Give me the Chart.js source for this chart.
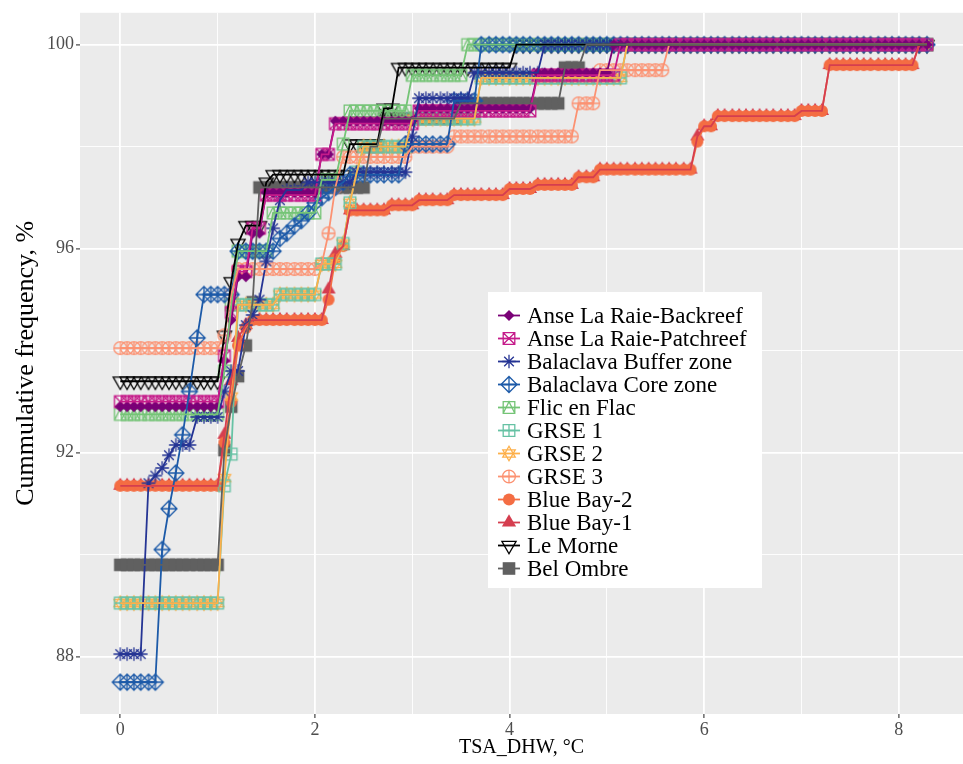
<!DOCTYPE html>
<html>
<head>
<meta charset="utf-8">
<title>Cummulative frequency of TSA_DHW</title>
<script src="https://cdn.jsdelivr.net/npm/chart.js@4.4.0/dist/chart.umd.min.js"></script>
<style>
  body { margin: 0; background: #fff; }
  #wrap { position: relative; width: 963px; height: 764px; }
  #legend {
    position: absolute; left: 488px; top: 292px; width: 274px; height: 296px;
    background: #fff; box-sizing: border-box; padding-top: 12px;
    font-family: 'Liberation Serif', 'Times New Roman', serif; font-size: 23px; color: #000;
  }
  .row { display: flex; align-items: center; height: 23px; white-space: nowrap; }
  .row canvas { margin-left: 8px; margin-right: 5px; }
</style>
</head>
<body>
<div id="wrap">
  <canvas id="chart" width="963" height="764"></canvas>
  <div id="legend"></div>
</div>
<script>
// x values (TSA_DHW, °C) shared by every site
const tsaDhw = [
  0, 0.07, 0.14, 0.21, 0.29, 0.36, 0.43, 0.5, 0.57, 0.64, 0.71, 0.79, 0.86, 0.93,
  1, 1.07, 1.14, 1.21, 1.29, 1.36, 1.43, 1.5, 1.57, 1.64, 1.71, 1.79, 1.86, 1.93,
  2, 2.07, 2.14, 2.21, 2.29, 2.36, 2.43, 2.5, 2.57, 2.64, 2.71, 2.79, 2.86, 2.93,
  3, 3.07, 3.14, 3.21, 3.29, 3.36, 3.43, 3.5, 3.57, 3.64, 3.71, 3.79, 3.86, 3.93,
  4, 4.07, 4.14, 4.21, 4.29, 4.36, 4.43, 4.5, 4.57, 4.64, 4.71, 4.79, 4.86, 4.93,
  5, 5.07, 5.14, 5.21, 5.29, 5.36, 5.43, 5.5, 5.57, 5.64, 5.71, 5.79, 5.86, 5.93,
  6, 6.07, 6.14, 6.21, 6.29, 6.36, 6.43, 6.5, 6.57, 6.64, 6.71, 6.79, 6.86, 6.93,
  7, 7.07, 7.14, 7.21, 7.29, 7.36, 7.43, 7.5, 7.57, 7.64, 7.71, 7.79, 7.86, 7.93,
  8, 8.07, 8.14, 8.21, 8.29
];

// cumulative frequency, % (one value per tsaDhw entry)
const anseBackreef = [
  92.9, 92.9, 92.9, 92.9, 92.9, 92.9, 92.9, 92.9, 92.9, 92.9, 92.9, 92.9, 92.9, 92.9,
  92.9, 93.8, 94.6, 95.45, 95.45, 96.3, 96.3, 97.1, 97.1, 97.1, 97.1, 97.1, 97.1, 97.1,
  97.1, 97.85, 97.85, 98.5, 98.5, 98.5, 98.5, 98.5, 98.5, 98.5, 98.5, 98.5, 98.5, 98.5,
  98.5, 98.75, 98.75, 98.75, 98.75, 98.75, 98.75, 98.75, 98.75, 98.75, 98.75, 98.75, 98.75, 98.75,
  98.75, 98.75, 98.75, 98.75, 99.45, 99.45, 99.45, 99.45, 99.45, 99.45, 99.45, 99.45, 99.45, 99.45,
  99.45, 100, 100, 100, 100, 100, 100, 100, 100, 100, 100, 100, 100, 100,
  100, 100, 100, 100, 100, 100, 100, 100, 100, 100, 100, 100, 100, 100,
  100, 100, 100, 100, 100, 100, 100, 100, 100, 100, 100, 100, 100, 100,
  100, 100, 100, 100, 100
];
const ansePatchreef = [
  93, 93, 93, 93, 93, 93, 93, 93, 93, 93, 93, 93, 93, 93,
  93, 93.9, 94.75, 95.55, 95.55, 96.4, 96.4, 97.05, 97.05, 97.05, 97.05, 97.05, 97.05, 97.05,
  97.05, 97.85, 97.85, 98.45, 98.45, 98.45, 98.45, 98.45, 98.45, 98.45, 98.45, 98.45, 98.45, 98.45,
  98.45, 98.7, 98.7, 98.7, 98.7, 98.7, 98.7, 98.7, 98.7, 98.7, 98.7, 98.7, 98.7, 98.7,
  98.7, 98.7, 98.7, 98.7, 99.4, 99.4, 99.4, 99.4, 99.4, 99.4, 99.4, 99.4, 99.4, 99.4,
  99.4, 99.4, 100, 100, 100, 100, 100, 100, 100, 100, 100, 100, 100, 100,
  100, 100, 100, 100, 100, 100, 100, 100, 100, 100, 100, 100, 100, 100,
  100, 100, 100, 100, 100, 100, 100, 100, 100, 100, 100, 100, 100, 100,
  100, 100, 100, 100, 100
];
const balaclavaBuffer = [
  88.05, 88.05, 88.05, 88.05, 91.4, 91.55, 91.7, 91.95, 92.15, 92.15, 92.15, 92.7, 92.7, 92.7,
  92.7, 93.2, 93.6, 93.6, 94.5, 94.7, 95, 95.75, 96.4, 96.95, 97.15, 97.15, 97.15, 97.3,
  97.3, 97.3, 97.3, 97.3, 97.3, 97.3, 97.5, 97.5, 97.5, 97.5, 97.5, 97.5, 97.5, 97.5,
  98.2, 98.95, 98.95, 98.95, 98.95, 98.95, 98.95, 98.95, 98.95, 99.45, 99.45, 99.45, 99.45, 99.45,
  99.45, 99.45, 99.45, 99.45, 99.45, 100, 100, 100, 100, 100, 100, 100, 100, 100,
  100, 100, 100, 100, 100, 100, 100, 100, 100, 100, 100, 100, 100, 100,
  100, 100, 100, 100, 100, 100, 100, 100, 100, 100, 100, 100, 100, 100,
  100, 100, 100, 100, 100, 100, 100, 100, 100, 100, 100, 100, 100, 100,
  100, 100, 100, 100, 100
];
const balaclavaCore = [
  87.5, 87.5, 87.5, 87.5, 87.5, 87.5, 90.1, 90.9, 91.6, 92.35, 93.2, 94.25, 95.1, 95.1,
  95.1, 95.1, 95.1, 95.95, 95.95, 95.95, 95.95, 95.95, 95.95, 96.2, 96.3, 96.45, 96.55, 96.7,
  96.9, 97, 97.1, 97.2, 97.3, 97.45, 97.45, 97.45, 97.45, 97.45, 97.45, 97.45, 97.45, 98.05,
  98.05, 98.05, 98.05, 98.05, 98.05, 98.05, 98.9, 98.9, 98.9, 98.9, 100, 100, 100, 100,
  100, 100, 100, 100, 100, 100, 100, 100, 100, 100, 100, 100, 100, 100,
  100, 100, 100, 100, 100, 100, 100, 100, 100, 100, 100, 100, 100, 100,
  100, 100, 100, 100, 100, 100, 100, 100, 100, 100, 100, 100, 100, 100,
  100, 100, 100, 100, 100, 100, 100, 100, 100, 100, 100, 100, 100, 100,
  100, 100, 100, 100, 100
];
const flicEnFlac = [
  92.75, 92.75, 92.75, 92.75, 92.75, 92.75, 92.75, 92.75, 92.75, 92.75, 92.75, 92.75, 92.75, 92.75,
  92.75, 93.6, 94.9, 95.95, 95.95, 95.95, 95.95, 95.95, 96.7, 96.7, 96.7, 96.7, 96.7, 96.7,
  96.7, 97.35, 97.35, 97.35, 98.05, 98.7, 98.7, 98.7, 98.7, 98.7, 98.7, 98.7, 98.7, 98.7,
  99.4, 99.4, 99.4, 99.4, 99.4, 99.4, 99.4, 99.4, 100, 100, 100, 100, 100, 100,
  100, 100, 100, 100, 100, 100, 100, 100, 100, 100, 100, 100, 100, 100,
  100, 100, 100, 100, 100, 100, 100, 100, 100, 100, 100, 100, 100, 100,
  100, 100, 100, 100, 100, 100, 100, 100, 100, 100, 100, 100, 100, 100,
  100, 100, 100, 100, 100, 100, 100, 100, 100, 100, 100, 100, 100, 100,
  100, 100, 100, 100, 100
];
const grse1 = [
  89.05, 89.05, 89.05, 89.05, 89.05, 89.05, 89.05, 89.05, 89.05, 89.05, 89.05, 89.05, 89.05, 89.05,
  89.05, 91.35, 91.97, 94.9, 94.9, 94.9, 94.9, 94.9, 94.9, 95.1, 95.1, 95.1, 95.1, 95.1,
  95.1, 95.7, 95.7, 95.7, 96.1, 96.9, 97.5, 98, 98, 98, 98, 98, 98, 98,
  98.55, 98.55, 98.55, 98.55, 98.55, 98.55, 98.55, 98.55, 98.55, 98.55, 99.35, 99.35, 99.35, 99.35,
  99.35, 99.35, 99.35, 99.35, 99.35, 99.35, 99.35, 99.35, 99.35, 99.35, 99.35, 99.35, 99.35, 99.35,
  99.35, 99.35, 99.35, 100, 100, 100, 100, 100, 100, 100, 100, 100, 100, 100,
  100, 100, 100, 100, 100, 100, 100, 100, 100, 100, 100, 100, 100, 100,
  100, 100, 100, 100, 100, 100, 100, 100, 100, 100, 100, 100, 100, 100,
  100, 100, 100, 100, 100
];
const grse2 = [
  89.05, 89.05, 89.05, 89.05, 89.05, 89.05, 89.05, 89.05, 89.05, 89.05, 89.05, 89.05, 89.05, 89.05,
  89.05, 91.5, 93.1, 94.9, 94.9, 94.9, 94.9, 94.9, 94.9, 95.1, 95.1, 95.1, 95.1, 95.1,
  95.1, 95.7, 95.7, 95.7, 96.1, 96.9, 97.5, 98, 98, 98, 98, 98, 98, 98,
  98.55, 98.55, 98.55, 98.55, 98.55, 98.55, 98.55, 98.55, 98.55, 98.55, 99.35, 99.35, 99.35, 99.35,
  99.35, 99.35, 99.35, 99.35, 99.35, 99.35, 99.35, 99.35, 99.35, 99.35, 99.35, 99.35, 99.35, 99.35,
  99.35, 99.35, 99.35, 100, 100, 100, 100, 100, 100, 100, 100, 100, 100, 100,
  100, 100, 100, 100, 100, 100, 100, 100, 100, 100, 100, 100, 100, 100,
  100, 100, 100, 100, 100, 100, 100, 100, 100, 100, 100, 100, 100, 100,
  100, 100, 100, 100, 100
];
const grse3 = [
  94.05, 94.05, 94.05, 94.05, 94.05, 94.05, 94.05, 94.05, 94.05, 94.05, 94.05, 94.05, 94.05, 94.05,
  94.05, 94.3, 95.1, 95.6, 95.6, 95.6, 95.6, 95.6, 95.6, 95.6, 95.6, 95.6, 95.6, 95.6,
  95.6, 95.7, 96.3, 97.2, 97.8, 97.8, 97.8, 97.8, 97.8, 97.8, 97.8, 97.8, 97.8, 97.8,
  98, 98, 98, 98, 98, 98, 98.2, 98.2, 98.2, 98.2, 98.2, 98.2, 98.2, 98.2,
  98.2, 98.2, 98.2, 98.2, 98.2, 98.2, 98.2, 98.2, 98.2, 98.2, 98.85, 98.85, 98.85, 99.5,
  99.5, 99.5, 99.5, 99.5, 99.5, 99.5, 99.5, 99.5, 99.5, 100, 100, 100, 100, 100,
  100, 100, 100, 100, 100, 100, 100, 100, 100, 100, 100, 100, 100, 100,
  100, 100, 100, 100, 100, 100, 100, 100, 100, 100, 100, 100, 100, 100,
  100, 100, 100, 100, 100
];
const blueBay2 = [
  91.35, 91.35, 91.35, 91.35, 91.35, 91.35, 91.35, 91.35, 91.35, 91.35, 91.35, 91.35, 91.35, 91.35,
  91.35, 92.2, 93, 94.1, 94.45, 94.6, 94.6, 94.6, 94.6, 94.6, 94.6, 94.6, 94.6, 94.6,
  94.6, 94.6, 95, 95.8, 96.05, 96.75, 96.75, 96.75, 96.75, 96.75, 96.75, 96.85, 96.85, 96.85,
  96.85, 96.95, 96.95, 96.95, 96.95, 96.95, 97.05, 97.05, 97.05, 97.05, 97.05, 97.05, 97.05, 97.05,
  97.17, 97.17, 97.17, 97.17, 97.25, 97.25, 97.25, 97.25, 97.25, 97.25, 97.4, 97.4, 97.4, 97.55,
  97.55, 97.55, 97.55, 97.55, 97.55, 97.55, 97.55, 97.55, 97.55, 97.55, 97.55, 97.55, 97.55, 98.1,
  98.4, 98.4, 98.6, 98.6, 98.6, 98.6, 98.6, 98.6, 98.6, 98.6, 98.6, 98.6, 98.6, 98.6,
  98.7, 98.7, 98.7, 98.7, 99.6, 99.6, 99.6, 99.6, 99.6, 99.6, 99.6, 99.6, 99.6, 99.6,
  99.6, 99.6, 99.6, 100, 100
];
const blueBay1 = [
  91.35, 91.35, 91.35, 91.35, 91.35, 91.35, 91.35, 91.35, 91.35, 91.35, 91.35, 91.35, 91.35, 91.35,
  91.35, 92.35, 93.4, 94.25, 94.5, 94.6, 94.6, 94.6, 94.6, 94.6, 94.6, 94.6, 94.6, 94.6,
  94.6, 94.6, 95.2, 95.9, 96.05, 96.75, 96.75, 96.75, 96.75, 96.75, 96.75, 96.85, 96.85, 96.85,
  96.85, 96.95, 96.95, 96.95, 96.95, 96.95, 97.05, 97.05, 97.05, 97.05, 97.05, 97.05, 97.05, 97.05,
  97.17, 97.17, 97.17, 97.17, 97.25, 97.25, 97.25, 97.25, 97.25, 97.25, 97.4, 97.4, 97.4, 97.55,
  97.55, 97.55, 97.55, 97.55, 97.55, 97.55, 97.55, 97.55, 97.55, 97.55, 97.55, 97.55, 97.55, 98.2,
  98.4, 98.4, 98.6, 98.6, 98.6, 98.6, 98.6, 98.6, 98.6, 98.6, 98.6, 98.6, 98.6, 98.6,
  98.7, 98.7, 98.7, 98.7, 99.6, 99.6, 99.6, 99.6, 99.6, 99.6, 99.6, 99.6, 99.6, 99.6,
  99.6, 99.6, 99.6, 100, 100
];
const leMorne = [
  93.4, 93.4, 93.4, 93.4, 93.4, 93.4, 93.4, 93.4, 93.4, 93.4, 93.4, 93.4, 93.4, 93.4,
  93.4, 94.3, 95.35, 96.1, 96.45, 96.45, 96.45, 97.3, 97.45, 97.45, 97.45, 97.45, 97.45, 97.45,
  97.45, 97.45, 97.45, 97.45, 97.45, 98.05, 98.05, 98.05, 98.05, 98.05, 98.75, 98.75, 99.55, 99.55,
  99.55, 99.55, 99.55, 99.55, 99.55, 99.55, 99.55, 99.55, 99.55, 99.55, 99.55, 99.55, 99.55, 99.55,
  99.55, 100, 100, 100, 100, 100, 100, 100, 100, 100, 100, 100, 100, 100,
  100, 100, 100, 100, 100, 100, 100, 100, 100, 100, 100, 100, 100, 100,
  100, 100, 100, 100, 100, 100, 100, 100, 100, 100, 100, 100, 100, 100,
  100, 100, 100, 100, 100, 100, 100, 100, 100, 100, 100, 100, 100, 100,
  100, 100, 100, 100, 100
];
const belOmbre = [
  89.8, 89.8, 89.8, 89.8, 89.8, 89.8, 89.8, 89.8, 89.8, 89.8, 89.8, 89.8, 89.8, 89.8,
  89.8, 92.05, 92.9, 93.5, 94.1, 94.95, 97.2, 97.2, 97.2, 97.2, 97.2, 97.2, 97.2, 97.2,
  97.2, 97.2, 97.2, 97.2, 97.2, 97.2, 97.2, 97.2, 98, 98, 98.55, 98.55, 98.55, 98.55,
  98.55, 98.55, 98.55, 98.55, 98.55, 98.55, 98.55, 98.85, 98.85, 98.85, 98.85, 98.85, 98.85, 98.85,
  98.85, 98.85, 98.85, 98.85, 98.85, 98.85, 98.85, 98.85, 99.55, 99.55, 99.55, 100, 100, 100,
  100, 100, 100, 100, 100, 100, 100, 100, 100, 100, 100, 100, 100, 100,
  100, 100, 100, 100, 100, 100, 100, 100, 100, 100, 100, 100, 100, 100,
  100, 100, 100, 100, 100, 100, 100, 100, 100, 100, 100, 100, 100, 100,
  100, 100, 100, 100, 100
];

const siteNames = ['Anse La Raie-Backreef', 'Anse La Raie-Patchreef', 'Balaclava Buffer zone',
  'Balaclava Core zone', 'Flic en Flac', 'GRSE 1', 'GRSE 2', 'GRSE 3', 'Blue Bay-2', 'Blue Bay-1',
  'Le Morne', 'Bel Ombre'];
const siteValues = [anseBackreef, ansePatchreef, balaclavaBuffer, balaclavaCore, flicEnFlac,
  grse1, grse2, grse3, blueBay2, blueBay1, leMorne, belOmbre];

const xTickLabels = [0, 2, 4, 6, 8];
const xMinor = [1, 3, 5, 7];
const yTickLabels = [88, 92, 96, 100];
const yMinor = [90, 94, 98];

// styles
const siteColors = ['#7a0177', '#c51b8a', '#253494', '#1c5aa8', '#74c476', '#66c2a4',
  '#fdb04b', '#fc9272', '#f46d43', '#d53e4f', '#000000', '#606060'];
const siteShapes = ['diamondFilled', 'squareX', 'asterisk', 'diamondPlus', 'squareTri',
  'squarePlus', 'star6', 'circlePlus', 'circleFilled', 'triFilled', 'triDown', 'squareFilled'];

function drawShape(g, shape, color) {
  g.strokeStyle = color;
  g.fillStyle = color;
  g.lineWidth = 1.3;
  const s = 5.8;
  g.beginPath();
  if (shape === 'diamondFilled') {
    g.moveTo(0, -5.5); g.lineTo(5.5, 0); g.lineTo(0, 5.5); g.lineTo(-5.5, 0); g.closePath(); g.fill();
  } else if (shape === 'squareX') {
    g.rect(-s, -s, 2 * s, 2 * s);
    g.moveTo(-s, -s); g.lineTo(s, s); g.moveTo(s, -s); g.lineTo(-s, s); g.stroke();
  } else if (shape === 'asterisk') {
    for (let a = 0; a < 4; a++) {
      const t = a * Math.PI / 4;
      g.moveTo(-6.8 * Math.cos(t), -6.8 * Math.sin(t));
      g.lineTo(6.8 * Math.cos(t), 6.8 * Math.sin(t));
    }
    g.stroke();
  } else if (shape === 'diamondPlus') {
    const d = 8;
    g.moveTo(0, -d); g.lineTo(d, 0); g.lineTo(0, d); g.lineTo(-d, 0); g.closePath();
    g.moveTo(-d, 0); g.lineTo(d, 0); g.moveTo(0, -d); g.lineTo(0, d); g.stroke();
  } else if (shape === 'squareTri') {
    g.rect(-s, -s, 2 * s, 2 * s);
    g.moveTo(-s, s); g.lineTo(0, -s); g.lineTo(s, s); g.stroke();
  } else if (shape === 'squarePlus') {
    g.rect(-s, -s, 2 * s, 2 * s);
    g.moveTo(-s, 0); g.lineTo(s, 0); g.moveTo(0, -s); g.lineTo(0, s); g.stroke();
  } else if (shape === 'star6') {
    const r = 7.2;
    g.moveTo(0, -r); g.lineTo(r * 0.866, r * 0.5); g.lineTo(-r * 0.866, r * 0.5); g.closePath();
    g.moveTo(0, r); g.lineTo(r * 0.866, -r * 0.5); g.lineTo(-r * 0.866, -r * 0.5); g.closePath();
    g.stroke();
  } else if (shape === 'circlePlus') {
    const r = 6.4;
    g.arc(0, 0, r, 0, Math.PI * 2);
    g.moveTo(-r, 0); g.lineTo(r, 0); g.moveTo(0, -r); g.lineTo(0, r); g.stroke();
  } else if (shape === 'circleFilled') {
    g.arc(0, 0, 6, 0, Math.PI * 2); g.fill();
  } else if (shape === 'triFilled') {
    const r = 8.2;
    g.moveTo(0, -r); g.lineTo(r * 0.866, r * 0.5); g.lineTo(-r * 0.866, r * 0.5); g.closePath(); g.fill();
  } else if (shape === 'triDown') {
    const r = 8.2;
    g.moveTo(0, r); g.lineTo(r * 0.866, -r * 0.5); g.lineTo(-r * 0.866, -r * 0.5); g.closePath(); g.stroke();
  } else if (shape === 'squareFilled') {
    g.rect(-6.3, -6.3, 12.6, 12.6); g.fill();
  }
}

function makeMarker(shape, color) {
  const c = document.createElement('canvas');
  c.width = 24; c.height = 24;
  const g = c.getContext('2d');
  g.translate(12, 12);
  drawShape(g, shape, color);
  return c;
}

function toPoints(values) {
  return tsaDhw.map((x, i) => ({ x: x, y: values[i] }));
}

// ggplot-like layering: all points first, then all lines on top
const pointOrder = [11, 10, 9, 8, 7, 6, 5, 4, 3, 2, 1, 0];
const datasets = [];
let layer = 100;
pointOrder.forEach(i => {
  datasets.push({
    label: siteNames[i] + ' points',
    data: toPoints(siteValues[i]),
    showLine: false,
    pointStyle: makeMarker(siteShapes[i], siteColors[i]),
    pointRadius: 5,
    order: layer--
  });
});
siteNames.forEach((name, i) => {
  datasets.push({
    label: name,
    data: toPoints(siteValues[i]),
    borderColor: siteColors[i],
    borderWidth: 1.8,
    pointRadius: 0,
    tension: 0,
    fill: false,
    order: layer--
  });
});

const panelBackground = {
  id: 'panelBackground',
  beforeDraw(chart) {
    const { ctx, chartArea: a } = chart;
    ctx.save();
    ctx.fillStyle = '#ffffff';
    ctx.fillRect(0, 0, chart.width, chart.height);
    ctx.fillStyle = '#ebebeb';
    ctx.fillRect(a.left, a.top, a.right - a.left, a.bottom - a.top);
    ctx.restore();
  }
};

const serif = "'Liberation Serif', 'Times New Roman', serif";

new Chart(document.getElementById('chart'), {
  type: 'line',
  data: { datasets: datasets },
  options: {
    responsive: false,
    animation: false,
    devicePixelRatio: 1,
    events: [],
    layout: { autoPadding: false, padding: { top: 11, right: 0, bottom: 0, left: 0 } },
    plugins: { legend: { display: false }, tooltip: { enabled: false } },
    scales: {
      x: {
        type: 'linear',
        min: -0.414,
        max: 8.66,
        afterBuildTicks: scale => {
          scale.ticks = xTickLabels.concat(xMinor).sort((a, b) => a - b).map(v => ({ value: v }));
        },
        afterFit: scale => { scale.height = 50; },
        border: { display: false },
        grid: {
          color: '#ffffff',
          lineWidth: ctx => (ctx.tick && xTickLabels.includes(ctx.tick.value)) ? 1.8 : 0.9,
          tickColor: ctx => (ctx.tick && xTickLabels.includes(ctx.tick.value)) ? '#333333' : 'rgba(0,0,0,0)',
          tickLength: 4,
          tickWidth: 1.1
        },
        ticks: {
          autoSkip: false,
          maxRotation: 0,
          padding: 1,
          color: '#4d4d4d',
          font: { family: serif, size: 18 },
          callback: v => xTickLabels.includes(v) ? String(v) : ''
        },
        title: {
          display: true,
          text: 'TSA_DHW, °C',
          color: '#000',
          font: { family: serif, size: 20 },
          padding: { top: 0, bottom: 4 }
        }
      },
      y: {
        type: 'linear',
        min: 86.875,
        max: 100.625,
        afterBuildTicks: scale => {
          scale.ticks = yTickLabels.concat(yMinor).sort((a, b) => a - b).map(v => ({ value: v }));
        },
        afterFit: scale => { scale.width = 80; },
        border: { display: false },
        grid: {
          color: '#ffffff',
          lineWidth: ctx => (ctx.tick && yTickLabels.includes(ctx.tick.value)) ? 1.8 : 0.9,
          tickColor: ctx => (ctx.tick && yTickLabels.includes(ctx.tick.value)) ? '#333333' : 'rgba(0,0,0,0)',
          tickLength: 4,
          tickWidth: 1.1
        },
        ticks: {
          autoSkip: false,
          padding: 2,
          color: '#4d4d4d',
          font: { family: serif, size: 18 },
          callback: v => yTickLabels.includes(v) ? String(v) : ''
        },
        title: {
          display: true,
          text: 'Cummulative frequency, %',
          color: '#000',
          font: { family: serif, size: 26 },
          padding: { top: 11, bottom: 0 }
        }
      }
    }
  },
  plugins: [panelBackground]
});

// legend inside the panel
const legend = document.getElementById('legend');
siteNames.forEach((name, i) => {
  const row = document.createElement('div');
  row.className = 'row';
  const key = document.createElement('canvas');
  key.width = 26; key.height = 23;
  const g = key.getContext('2d');
  g.strokeStyle = siteColors[i];
  g.lineWidth = 1.8;
  g.beginPath(); g.moveTo(2, 11.5); g.lineTo(24, 11.5); g.stroke();
  g.translate(13, 11.5);
  drawShape(g, siteShapes[i], siteColors[i]);
  const label = document.createElement('span');
  label.textContent = name;
  row.appendChild(key);
  row.appendChild(label);
  legend.appendChild(row);
});
</script>
</body>
</html>
